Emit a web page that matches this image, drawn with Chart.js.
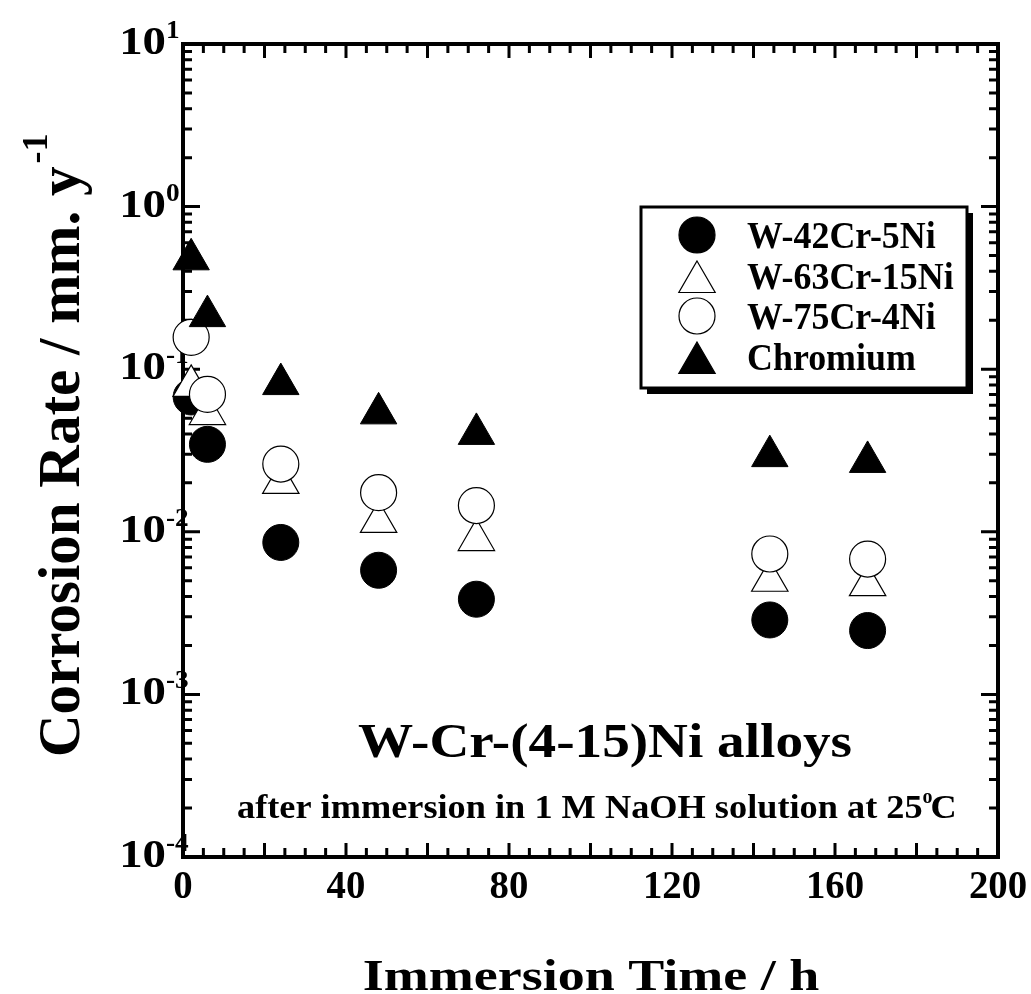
<!DOCTYPE html>
<html>
<head>
<meta charset="utf-8">
<script src="https://cdn.jsdelivr.net/npm/chart.js@4/dist/chart.umd.min.js"></script>
<style>
  body { margin: 0; background: #fff; }
  canvas { display: block; }
</style>
</head>
<body>
<canvas id="myChart" width="1031" height="994"></canvas>
<script>
// immersion time (h)
const times = [2, 6, 24, 48, 72, 144, 168];
// corrosion rate (mm/y)
const w42Cr5Ni  = [0.0675, 0.0345, 0.0086, 0.0058, 0.00385, 0.00287, 0.00247];
const w63Cr15Ni = [0.079, 0.053, 0.020, 0.0115, 0.0089, 0.0050, 0.0047];
const w75Cr4Ni  = [0.157, 0.070, 0.0261, 0.0174, 0.0145, 0.0073, 0.0068];
const chromium  = [0.474, 0.212, 0.081, 0.0535, 0.040, 0.0292, 0.0269];

const seriesNames = ["W-42Cr-5Ni", "W-63Cr-15Ni", "W-75Cr-4Ni", "Chromium"];
const xTickLabels = [0, 40, 80, 120, 160, 200];
const yTickExps = [-4, -3, -2, -1, 0, 1];

const FONT = '"Liberation Serif", "Times New Roman", serif';

let toPoints = (ys) => times.map((t, i) => ({ x: t, y: ys[i] }));

// draw text with a horizontal stretch
function txt(ctx, s, x, y, size, sx, align) {
    ctx.save();
    ctx.font = 'bold ' + size + 'px ' + FONT;
    ctx.textAlign = align || 'left';
    ctx.textBaseline = 'alphabetic';
    ctx.fillStyle = '#000';
    ctx.translate(x, y);
    ctx.scale(sx, 1);
    ctx.fillText(s, 0, 0);
    ctx.restore();
}
function txtWidth(ctx, s, size, sx) {
    ctx.save();
    ctx.font = 'bold ' + size + 'px ' + FONT;
    let w = ctx.measureText(s).width * sx;
    ctx.restore();
    return w;
}

function marker(ctx, style, x, y, fill) {
    ctx.save();
    ctx.fillStyle = fill;
    ctx.strokeStyle = '#000';
    ctx.lineWidth = 1.2;
    ctx.beginPath();
    if (style == 'circle') {
        ctx.arc(x, y, 18, 0, Math.PI * 2);
    } else {
        let r = 21;
        ctx.moveTo(x, y - r);
        ctx.lineTo(x + r * 0.866, y + r * 0.5);
        ctx.lineTo(x - r * 0.866, y + r * 0.5);
        ctx.closePath();
    }
    ctx.fill();
    ctx.stroke();
    ctx.restore();
}

const frame = {
    id: 'frame',
    beforeDatasetsDraw(chart) {
        const ctx = chart.ctx;
        const a = chart.chartArea;
        const xs = chart.scales.x, ys = chart.scales.y;
        ctx.save();
        ctx.strokeStyle = '#000';
        // x ticks every 5 h, longer every 20 h
        ctx.lineWidth = 3;
        for (let v = 5; v < 200; v += 5) {
            let px = xs.getPixelForValue(v);
            let len = (v % 20 == 0) ? 14 : 9;
            ctx.beginPath();
            ctx.moveTo(px, a.bottom); ctx.lineTo(px, a.bottom - len);
            ctx.moveTo(px, a.top); ctx.lineTo(px, a.top + len);
            ctx.stroke();
        }
        // y ticks: decades and 2..9
        for (let e = -4; e <= 0; e++) {
            for (let m = 1; m <= 9; m++) {
                if (m == 1 && e == -4) continue;
                let py = ys.getPixelForValue(m * Math.pow(10, e));
                let len = (m == 1) ? 17 : 9;
                ctx.beginPath();
                ctx.moveTo(a.left, py); ctx.lineTo(a.left + len, py);
                ctx.moveTo(a.right, py); ctx.lineTo(a.right - len, py);
                ctx.stroke();
            }
        }
        ctx.lineWidth = 4;
        ctx.strokeRect(a.left, a.top, a.right - a.left, a.bottom - a.top);
        ctx.restore();

        // x tick labels
        xTickLabels.forEach(v => {
            txt(ctx, String(v), xs.getPixelForValue(v), a.bottom + 41, 40, 0.97, 'center');
        });
        // y tick labels 10^n
        yTickExps.forEach(e => {
            let py = ys.getPixelForValue(Math.pow(10, e));
            txt(ctx, '10', 166, py + 10, 39, 1.2, 'right');
            txt(ctx, String(e), 166, py - 6, 26, 1.05, 'left');
        });

        // axis titles
        txt(ctx, 'Immersion Time / h', 591, 990, 45, 1.2, 'center');
        ctx.save();
        ctx.translate(79, 757);
        ctx.rotate(-Math.PI / 2);
        ctx.font = 'bold 59px ' + FONT;
        ctx.fillStyle = '#000';
        ctx.textAlign = 'left';
        ctx.fillText('Corrosion Rate / mm. y', 0, 0);
        let w = ctx.measureText('Corrosion Rate / mm. y').width;
        ctx.font = 'bold 36px ' + FONT;
        ctx.fillText('-1', w + 3, -32);
        ctx.restore();
    },
    afterDatasetsDraw(chart) {
        const ctx = chart.ctx;
        // legend box with shadow
        let bx = 641, by = 207, bw = 326, bh = 181;
        ctx.save();
        ctx.fillStyle = '#000';
        ctx.fillRect(bx + 6, by + 6, bw, bh);
        ctx.fillStyle = '#fff';
        ctx.fillRect(bx, by, bw, bh);
        ctx.strokeStyle = '#000';
        ctx.lineWidth = 3;
        ctx.strokeRect(bx, by, bw, bh);
        ctx.restore();

        const rows = [235, 276, 316, 357];
        chart.data.datasets.forEach((ds, i) => {
            let y = rows[i];
            let fill = ds.backgroundColor;
            let my = ds.pointStyle == 'triangle' ? y + 6 : y;
            marker(ctx, ds.pointStyle, 697, my, fill);
            ctx.save();
            ctx.beginPath();
            ctx.rect(bx, by, bw - 4, bh);
            ctx.clip();
            txt(ctx, ds.label, 747, y + 13, 37, 0.97, 'left');
            ctx.restore();
        });

        // annotation texts
        txt(ctx, 'W-Cr-(4-15)Ni alloys', 605, 757, 48, 1.15, 'center');
        let sub = 'after immersion in 1 M NaOH solution at 25';
        txt(ctx, sub, 237, 818, 33, 1.1, 'left');
        let sw = txtWidth(ctx, sub, 33, 1.1);
        txt(ctx, 'o', 237 + sw, 803, 20, 1.0, 'left');
        txt(ctx, 'C', 237 + sw + 8, 818, 33, 1.1, 'left');
    }
};

new Chart("myChart", {
    type: "scatter",
    data: {
        datasets: [
            { label: seriesNames[0], data: toPoints(w42Cr5Ni), pointStyle: 'circle', radius: 18,
              backgroundColor: '#000', borderColor: '#000', borderWidth: 1, order: 4, clip: false },
            { label: seriesNames[1], data: toPoints(w63Cr15Ni), pointStyle: 'triangle', radius: 21,
              backgroundColor: '#fff', borderColor: '#000', borderWidth: 1.2, order: 3, clip: false },
            { label: seriesNames[2], data: toPoints(w75Cr4Ni), pointStyle: 'circle', radius: 18,
              backgroundColor: '#fff', borderColor: '#000', borderWidth: 1.2, order: 2, clip: false },
            { label: seriesNames[3], data: toPoints(chromium), pointStyle: 'triangle', radius: 21,
              backgroundColor: '#000', borderColor: '#000', borderWidth: 1, order: 1, clip: false }
        ]
    },
    options: {
        responsive: false,
        animation: false,
        layout: { padding: { left: 183, top: 44, right: 33, bottom: 137 } },
        plugins: { legend: { display: false }, tooltip: { enabled: false } },
        elements: { point: { hoverRadius: 18 } },
        scales: {
            x: { type: 'linear', min: 0, max: 200, display: false },
            y: { type: 'logarithmic', min: 1e-4, max: 10, display: false }
        }
    },
    plugins: [frame]
});
</script>
</body>
</html>
